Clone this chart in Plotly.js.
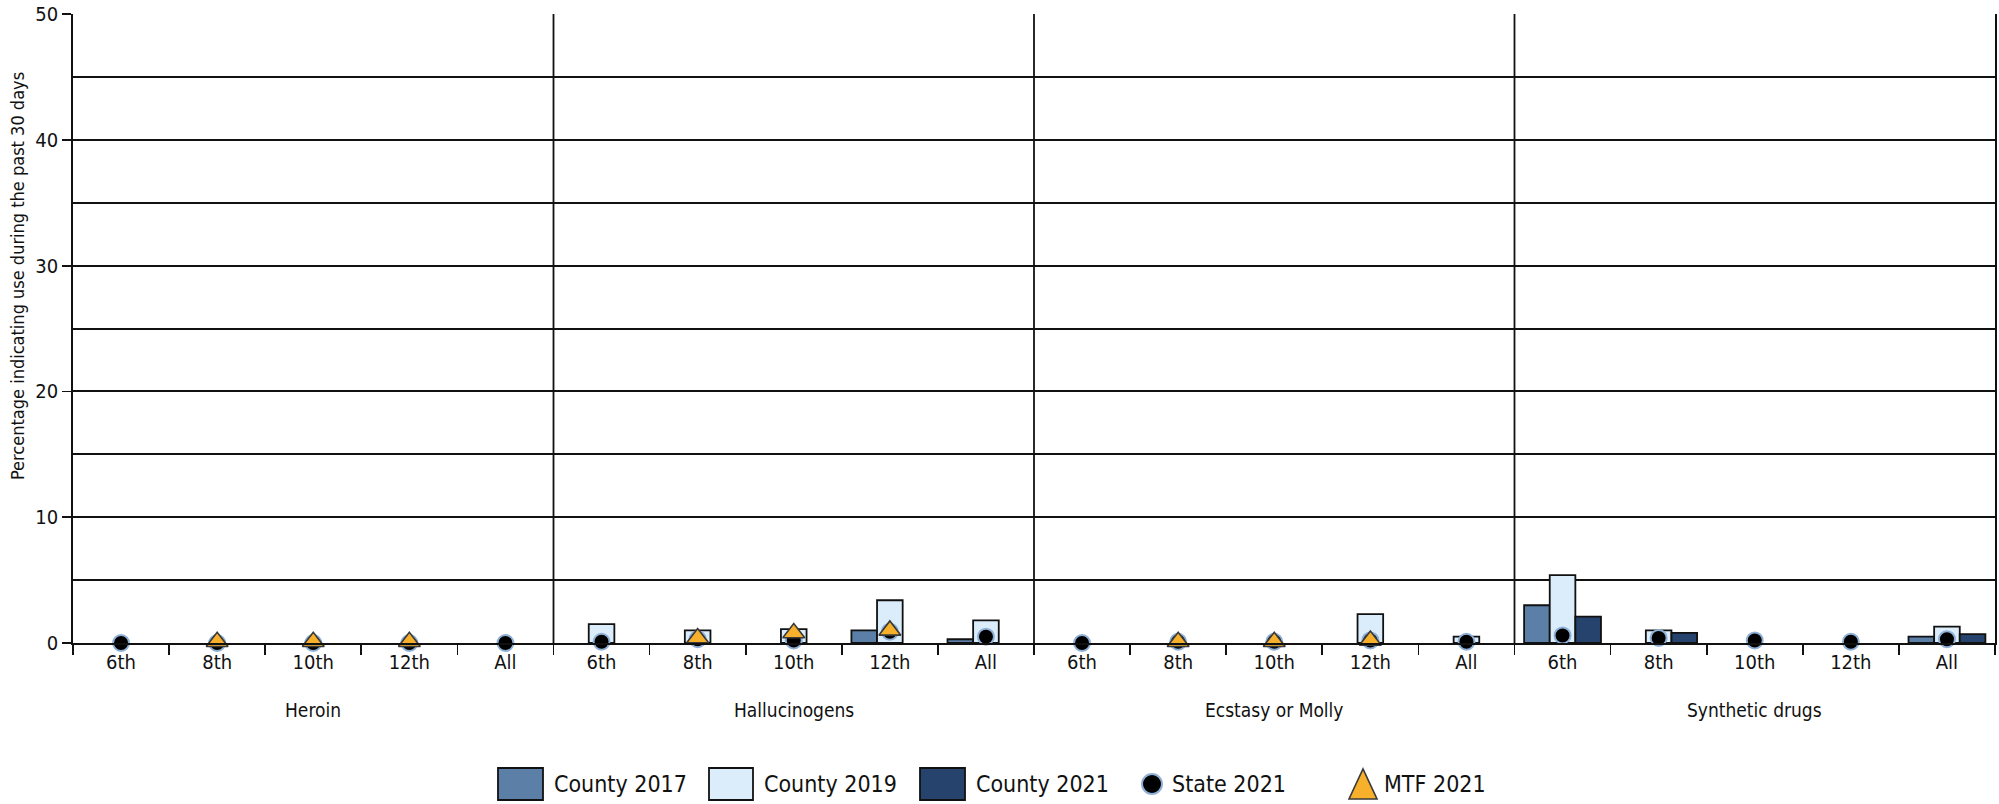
<!DOCTYPE html>
<html>
<head>
<meta charset="utf-8">
<script src="https://cdn.plot.ly/plotly-3.0.1.min.js"></script>
<style>html,body{margin:0;padding:0;background:#fff;}#chart{width:1999px;height:804px;}</style>
</head>
<body>
<div id="chart"></div>
<script>
// ---- data ----
const groups = ["Heroin", "Hallucinogens", "Ecstasy or Molly", "Synthetic drugs"];
const grades = ["6th", "8th", "10th", "12th", "All"];
const county2017 = [null, null, null, null, null,  null, null, null, 1.0, 0.3,  null, null, null, null, null,  3.0, null, null, null, 0.5];
const county2019 = [null, null, null, null, null,  1.5, 1.0, 1.1, 3.4, 1.8,  null, null, null, 2.3, 0.5,  5.4, 1.0, null, null, 1.3];
const county2021 = [null, null, null, null, null,  null, null, null, null, null,  null, null, null, null, null,  2.1, 0.8, null, null, 0.7];
const state2021  = [0.0, 0.0, 0.0, 0.0, 0.0,  0.1, 0.3, 0.2, 0.9, 0.5,  0.0, 0.1, 0.1, 0.2, 0.1,  0.6, 0.4, 0.2, 0.1, 0.3];
const mtf2021    = [null, 0.1, 0.1, 0.1, null,  null, 0.4, 0.8, 1.0, null,  null, 0.1, 0.1, 0.2, null,  null, null, null, null, null];
const seriesNames = ["County 2017", "County 2019", "County 2021", "State 2021", "MTF 2021"];
const yTitle = "Percentage indicating use during the past 30 days";

// ---- build ----
const FONT = "'DejaVu Sans Condensed', 'Liberation Sans Narrow', sans-serif";
const keys = [], labels = [];
groups.forEach(g => grades.forEach(c => { keys.push(g + "|" + c); labels.push(c); }));

const colors = ["#5b7fa7", "#dbedfb", "#25436d"];
const stateColor = "#000", stateLine = "#8fb0d6", mtfColor = "#f6b02b", mtfLine = "#3a3a3a";
const barSeries = [county2017, county2019, county2021];
const traces = barSeries.map((vals, i) => ({
  type: "bar", x: keys, y: vals, name: seriesNames[i], showlegend: false,
  marker: {color: colors[i], line: {color: "#111", width: 1.8}}
}));
traces.push({
  type: "scatter", mode: "markers", x: keys, y: state2021, name: seriesNames[3], showlegend: false, cliponaxis: false,
  marker: {symbol: "circle", size: 16, color: stateColor, line: {color: stateLine, width: 2}}
});
traces.push({
  type: "scatter", mode: "markers", x: keys, y: mtf2021, name: seriesNames[4], showlegend: false, cliponaxis: false,
  marker: {symbol: "triangle-up", size: 19, color: mtfColor, line: {color: mtfLine, width: 1.6}}
});

const W = 1999, H = 804, ML = 73, MR = 4, MT = 14, MB = 161;
const PW = W - ML - MR, PH = H - MT - MB;
const px = x => (x - ML) / PW;          // pixel -> paper x
const py = y => (H - MB - y) / PH;      // pixel -> paper y

const shapes = [];
const annotations = [];
// group dividers and labels
for (let g = 0; g < groups.length; g++) {
  if (g > 0) shapes.push({type: "line", xref: "paper", yref: "paper", x0: g / groups.length, x1: g / groups.length, y0: 0, y1: 1, line: {color: "#111", width: 1.8}, layer: "above"});
  annotations.push({xref: "paper", yref: "paper", x: (g + 0.5) / groups.length, y: py(710), text: groups[g], showarrow: false, xanchor: "center", yanchor: "middle", font: {family: FONT, size: 19, color: "#111"}});
}

// y-axis title (placed as in the reference, slightly above centre)
annotations.push({xref: "paper", yref: "paper", x: px(17), y: py(276), text: yTitle, textangle: -90, showarrow: false, xanchor: "center", yanchor: "middle", font: {family: FONT, size: 18, color: "#111"}});

// custom legend (below the plot)
const legY0 = 768, legY1 = 800, legMid = 784;
const swatchX = [[498, 543], [709, 753], [920, 965]];
const textX = [552, 762, 974, 1170, 1382];
for (let i = 0; i < 3; i++) {
  shapes.push({type: "rect", xref: "paper", yref: "paper", x0: px(swatchX[i][0]), x1: px(swatchX[i][1]), y0: py(legY1), y1: py(legY0), fillcolor: colors[i], line: {color: "#111", width: 1.8}});
}
const cx = 1152, cr = 10;
shapes.push({type: "circle", xref: "paper", yref: "paper", x0: px(cx - cr), x1: px(cx + cr), y0: py(legMid + cr), y1: py(legMid - cr), fillcolor: stateColor, line: {color: stateLine, width: 2}});
const tx = 1363, th = 30, tw = 28;
shapes.push({type: "path", xref: "paper", yref: "paper",
  path: `M ${px(tx - tw / 2)},${py(legMid + th / 2)} L ${px(tx + tw / 2)},${py(legMid + th / 2)} L ${px(tx)},${py(legMid - th / 2)} Z`,
  fillcolor: mtfColor, line: {color: mtfLine, width: 1.6}});
for (let i = 0; i < 5; i++) {
  annotations.push({xref: "paper", yref: "paper", x: px(textX[i]), y: py(legMid), text: seriesNames[i], showarrow: false, xanchor: "left", yanchor: "middle", font: {family: FONT, size: 23, color: "#111"}});
}

const layout = {
  width: W, height: H,
  margin: {l: ML, r: MR, t: MT, b: MB},
  paper_bgcolor: "#fff", plot_bgcolor: "#fff",
  font: {family: FONT, color: "#111"},
  barmode: "group", bargap: 0.2, bargroupgap: 0,
  xaxis: {
    type: "category", range: [-0.5, keys.length - 0.5], autorange: false,
    tickmode: "array", tickvals: keys, ticktext: labels, tickson: "boundaries",
    ticks: "outside", ticklen: 10, tickwidth: 1.8, tickcolor: "#111",
    showline: true, linecolor: "#111", linewidth: 2.2, showgrid: false, zeroline: false,
    tickfont: {family: FONT, size: 20, color: "#111"}, fixedrange: true
  },
  yaxis: {
    range: [0, 50], dtick: 10, tick0: 0, ticks: "outside", ticklen: 9, tickwidth: 1.8, tickcolor: "#111",
    showline: true, mirror: true, linecolor: "#111", linewidth: 1.8,
    showgrid: true, gridcolor: "#111", gridwidth: 2, zeroline: false,
    minor: {dtick: 5, tick0: 0, showgrid: true, gridcolor: "#111", gridwidth: 2},
    tickfont: {family: FONT, size: 20, color: "#111"}
  },
  shapes: shapes, annotations: annotations, showlegend: false
};

Plotly.newPlot("chart", traces, layout, {displayModeBar: false, staticPlot: true});
</script>
</body>
</html>
